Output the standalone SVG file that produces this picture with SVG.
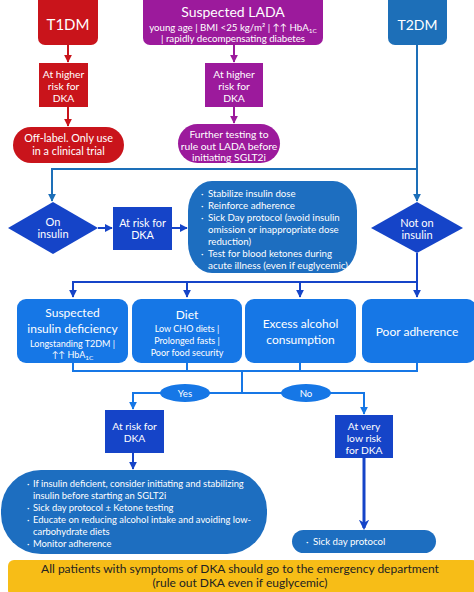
<svg xmlns="http://www.w3.org/2000/svg" width="474" height="592" viewBox="0 0 474 592">
<defs>
<marker id="arR" viewBox="0 0 10 10" refX="9" refY="5" markerWidth="4" markerHeight="4" orient="auto" markerUnits="strokeWidth"><path d="M0,0 L10,5 L0,10 z" fill="#c9141b"/></marker>
<marker id="arP" viewBox="0 0 10 10" refX="9" refY="5" markerWidth="4" markerHeight="4" orient="auto" markerUnits="strokeWidth"><path d="M0,0 L10,5 L0,10 z" fill="#9c1a9c"/></marker>
<marker id="arB" viewBox="0 0 10 10" refX="9" refY="5" markerWidth="4" markerHeight="4" orient="auto" markerUnits="strokeWidth"><path d="M0,0 L10,5 L0,10 z" fill="#1d6fb8"/></marker>
<marker id="arD" viewBox="0 0 10 10" refX="9" refY="5" markerWidth="4" markerHeight="4" orient="auto" markerUnits="strokeWidth"><path d="M0,0 L10,5 L0,10 z" fill="#1544c8"/></marker>
<marker id="arL" viewBox="0 0 10 10" refX="9" refY="5" markerWidth="4" markerHeight="4" orient="auto" markerUnits="strokeWidth"><path d="M0,0 L10,5 L0,10 z" fill="#1677e6"/></marker>
<marker id="arT" viewBox="0 0 10 10" refX="8" refY="5" markerWidth="3.5" markerHeight="3.5" orient="auto" markerUnits="strokeWidth"><path d="M0,0 L10,5 L0,10 L3,5 z" fill="#1544c8"/></marker>
</defs>
<style>
text{font-family:Lato,"Open Sans","Liberation Sans",sans-serif;fill:#fff;}
.c{text-anchor:middle;}
.red{fill:#c9141b;}
.pur{fill:#9c1a9c;}
.t2{fill:#1d6fb8;}
.dk{fill:#1544c8;}
.rec{fill:#1d6ec0;}
.fac{fill:#1677e6;}
.t{font-size:10.3px;}
.b{font-size:9.7px;}
.bb{font-size:9.4px;}
.h{font-size:12px;}
.s{font-size:9px;}
.yl{fill:#f7bd17;}
.yt{font-size:12px;fill:#222;}
.ln{fill:none;stroke-width:2;}
</style>

<g id="connectors">
<path class="ln" stroke="#c9141b" d="M68,45 V62" marker-end="url(#arR)"/>
<path class="ln" stroke="#c9141b" d="M68,107 V126" marker-end="url(#arR)"/>
<path class="ln" stroke="#9c1a9c" d="M234,45 V62" marker-end="url(#arP)"/>
<path class="ln" stroke="#9c1a9c" d="M234,107 V123" marker-end="url(#arP)"/>
<path class="ln" stroke="#1d6fb8" d="M417,45 V169 H52 V201" marker-end="url(#arB)"/>
<path class="ln" stroke="#1d6fb8" d="M417,169 V201" marker-end="url(#arB)"/>
<path class="ln" stroke="#1544c8" d="M98,228 H112" marker-end="url(#arD)"/>
<path class="ln" stroke="#1544c8" d="M172,228 H187" marker-end="url(#arD)"/>
<path class="ln" stroke="#1544c8" d="M417,253 V282 H73 V297" marker-end="url(#arD)"/>
<path class="ln" stroke="#1544c8" d="M187,282 V297" marker-end="url(#arD)"/>
<path class="ln" stroke="#1544c8" d="M300,282 V297" marker-end="url(#arD)"/>
<path class="ln" stroke="#1544c8" d="M417,282 V297" marker-end="url(#arD)"/>
<path class="ln" stroke="#1677e6" d="M73,363 V371 H417 V363 M187,363 V371 M300,363 V371 M242,371 V393"/>
<path class="ln" stroke="#1677e6" d="M242,393 H133 V409" marker-end="url(#arL)"/>
<path class="ln" stroke="#1677e6" d="M242,393 H364 V414" marker-end="url(#arL)"/>
<path class="ln" stroke="#1544c8" d="M133,453 V469" marker-end="url(#arD)"/>
<path fill="none" stroke="#1544c8" stroke-width="3" d="M364,458 V528" marker-end="url(#arT)"/>
</g>

<g id="t1dm"><rect class="red" x="38" y="-8" width="60" height="53" rx="7"/><text class="c" x="68" y="30" font-size="15">T1DM</text></g>
<g id="t1-risk"><rect class="red" x="39" y="63" width="49" height="44"/><text class="c t" x="63.5" y="78">At higher</text><text class="c t" x="63.5" y="90">risk for</text><text class="c t" x="63.5" y="102">DKA</text></g>
<g id="t1-offlabel"><rect class="red" x="13" y="127" width="111" height="36" rx="18"/><text class="c" font-size="10.8" x="68.5" y="142">Off-label. Only use</text><text class="c" font-size="10.8" x="68.5" y="155">in a clinical trial</text></g>

<g id="lada"><rect class="pur" x="143" y="-8" width="180" height="53" rx="7"/><text class="c" x="233" y="17" font-size="14">Suspected LADA</text><text class="c b" x="233" y="31">young age | BMI &lt;25 kg/m² | ↑↑ HbA<tspan font-size="6.5" dy="2">1C</tspan></text><text class="c b" x="233" y="42">| rapidly decompensating diabetes</text></g>
<g id="lada-risk"><rect class="pur" x="205" y="63" width="58" height="44"/><text class="c t" x="234" y="78">At higher</text><text class="c t" x="234" y="90">risk for</text><text class="c t" x="234" y="102">DKA</text></g>
<g id="lada-test"><rect class="pur" x="178" y="124" width="102" height="39" rx="19.5"/><text class="c t" x="229" y="138">Further testing to</text><text class="c t" x="229" y="149.5">rule out LADA before</text><text class="c t" x="229" y="161">initiating SGLT2i</text></g>

<g id="t2dm"><rect class="t2" x="388" y="-8" width="59" height="53" rx="7"/><text class="c" x="417.5" y="30" font-size="14">T2DM</text></g>

<g id="on-insulin"><polygon class="dk" points="53,202 98,228 53,254 8,228"/><text class="c" font-size="11" x="53" y="226">On</text><text class="c" font-size="11" x="53" y="238">insulin</text></g>
<g id="risk-insulin"><rect class="dk" x="113" y="207" width="59" height="43"/><text class="c" font-size="10.8" x="142.5" y="227">At risk for</text><text class="c" font-size="10.8" x="142.5" y="239">DKA</text></g>
<g id="insulin-actions"><rect class="rec" x="188" y="181" width="169" height="92" rx="24" ry="30"/>
<text class="b" x="201" y="197">·</text><text class="b" x="208" y="197">Stabilize insulin dose</text>
<text class="b" x="201" y="209">·</text><text class="b" x="208" y="209">Reinforce adherence</text>
<text class="b" x="201" y="221">·</text><text class="b" x="208" y="221">Sick Day protocol (avoid insulin</text>
<text class="b" x="208" y="233">omission or inappropriate dose</text>
<text class="b" x="208" y="245">reduction)</text>
<text class="b" x="201" y="257">·</text><text class="b" x="208" y="257">Test for blood ketones during</text>
<text class="b" x="208" y="269" textLength="140" lengthAdjust="spacingAndGlyphs">acute  illness (even if euglycemic)</text></g>
<g id="not-insulin"><polygon class="dk" points="417,202 463,228 417,253 371,228"/><text class="c" font-size="11" x="417" y="227">Not on</text><text class="c" font-size="11" x="417" y="239">insulin</text></g>

<g id="insulin-deficiency"><rect class="fac" x="17" y="299" width="111" height="64" rx="9"/><text class="c h" x="72.5" y="317">Suspected</text><text class="c h" x="72.5" y="333">insulin deficiency</text><text class="c s" x="72.5" y="347">Longstanding T2DM  |</text><text class="c s" x="72.5" y="358">↑↑ HbA<tspan font-size="6.5" dy="2">1C</tspan></text></g>
<g id="diet"><rect class="fac" x="132" y="299" width="110" height="64" rx="9"/><text class="c h" x="187" y="319">Diet</text><text class="c s" x="187" y="332">Low CHO diets |</text><text class="c s" x="187" y="344">Prolonged fasts |</text><text class="c s" x="187" y="356">Poor food security</text></g>
<g id="alcohol"><rect class="fac" x="245" y="299" width="111" height="64" rx="9"/><text class="c h" x="300.5" y="328">Excess alcohol</text><text class="c h" x="300.5" y="344">consumption</text></g>
<g id="adherence"><rect class="fac" x="362" y="299" width="114" height="64" rx="9"/><text class="c h" x="417" y="336">Poor adherence</text></g>

<g id="yes"><ellipse class="fac" cx="185" cy="393" rx="25" ry="9"/><text class="c b" x="185" y="397">Yes</text></g>
<g id="no"><ellipse class="fac" cx="306" cy="393" rx="25" ry="9"/><text class="c b" x="306" y="397">No</text></g>

<g id="risk-dka"><rect class="dk" x="105" y="410" width="59" height="43"/><text class="c t" x="134.5" y="430">At risk for</text><text class="c t" x="134.5" y="442">DKA</text></g>
<g id="low-risk"><rect class="dk" x="335" y="415" width="58" height="43"/><text class="c t" x="364" y="430">At very</text><text class="c t" x="364" y="442">low risk</text><text class="c t" x="364" y="454">for DKA</text></g>

<g id="risk-actions"><rect class="rec" x="1" y="470" width="266" height="84" rx="40"/>
<text class="bb" x="27" y="487">·</text><text class="bb" x="33" y="487">If insulin deficient, consider initiating and stabilizing</text>
<text class="bb" x="33" y="499">insulin before starting an SGLT2i</text>
<text class="bb" x="27" y="511">·</text><text class="bb" x="33" y="511">Sick day protocol ± Ketone testing</text>
<text class="bb" x="27" y="523">·</text><text class="bb" x="33" y="523">Educate on reducing alcohol intake and avoiding low-</text>
<text class="bb" x="33" y="535">carbohydrate diets</text>
<text class="bb" x="27" y="547">·</text><text class="bb" x="33" y="547">Monitor adherence</text></g>
<g id="sick-day"><rect class="rec" x="292" y="530" width="144" height="23" rx="11.5"/><text class="b" x="306" y="545">·</text><text class="b" x="313" y="545">Sick day protocol</text></g>

<g id="emergency"><rect class="yl" x="8" y="560" width="470" height="36" rx="6"/><text class="c yt" x="240" y="573">All patients with symptoms of DKA should go to the emergency department</text><text class="c yt" x="240" y="587">(rule out DKA even if euglycemic)</text></g>
</svg>
